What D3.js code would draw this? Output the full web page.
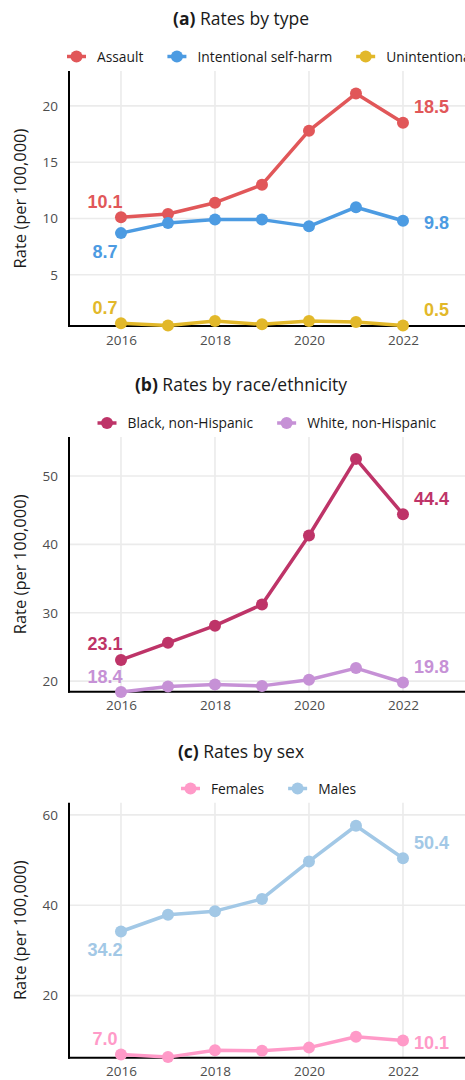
<!DOCTYPE html>
<html>
<head>
<meta charset="utf-8">
<script src="https://cdn.jsdelivr.net/npm/d3@7"></script>
<style>
  html, body { margin: 0; padding: 0; background: #fff; }
  svg { display: block; }
</style>
</head>
<body>
<svg id="chart" width="465" height="1080"></svg>
<script>
// ---------------- DATA ----------------
const years = [2016, 2017, 2018, 2019, 2020, 2021, 2022];
const xTicks = [2016, 2018, 2020, 2022];

const assault       = [10.1, 10.4, 11.4, 13.0, 17.8, 21.1, 18.5];
const selfHarm      = [8.7, 9.6, 9.9, 9.9, 9.3, 11.0, 9.8];
const unintentional = [0.7, 0.5, 0.9, 0.6, 0.9, 0.8, 0.5];

const blackNH = [23.1, 25.6, 28.1, 31.2, 41.3, 52.5, 44.4];
const whiteNH = [18.4, 19.2, 19.5, 19.3, 20.2, 21.9, 19.8];

const females = [7.0, 6.4, 7.9, 7.8, 8.5, 10.9, 10.1];
const males   = [34.2, 37.9, 38.7, 41.4, 49.7, 57.6, 50.4];

const yTicksA = [5, 10, 15, 20];
const yTicksB = [20, 30, 40, 50];
const yTicksC = [20, 40, 60];

const yDomainA = [0.45, 23.1];
const yDomainB = [18.45, 55.7];
const yDomainC = [6.27, 62.7];

// ---------------- LAYOUT / STYLE ----------------
const svg = d3.select("#chart");
const W = 465;
const LEFT = 69;
const FONT = "'Open Sans', 'Noto Sans', sans-serif";
const LABEL_FONT = "'Liberation Sans', Arial, sans-serif";
const GRID = "#EBEBEB";
const TICK_COLOR = "#4D4D4D";

const x = d3.scaleLinear().domain([2014.894, 2023.6]).range([LEFT, LEFT + (2023.6 - 2014.894) * 47]);

// label offset (center relative to point) keyed by placement name
const offsets = { above: -16, below: 18, level: 2 };

const panels = [
  {
    bold: "(a)", title: " Rates by type",
    top: 71, bottom: 326, titleY: 24.5, legendY: 56.5, legendX: 67,
    yDomain: yDomainA, yTicks: yTicksA,
    series: [
      { name: "Assault", values: assault, color: "#E15759", start: "above", end: "above" },
      { name: "Intentional self-harm", values: selfHarm, color: "#4C9BE2", start: "below", end: "level" },
      { name: "Unintentional", values: unintentional, color: "#E2B82A", start: "above", end: "above" }
    ]
  },
  {
    bold: "(b)", title: " Rates by race/ethnicity",
    top: 437, bottom: 691.7, titleY: 390.5, legendY: 423, legendX: 97.5,
    yDomain: yDomainB, yTicks: yTicksB,
    series: [
      { name: "Black, non-Hispanic", values: blackNH, color: "#BE3468", start: "above", end: "above" },
      { name: "White, non-Hispanic", values: whiteNH, color: "#C691D6", start: "above", end: "above" }
    ]
  },
  {
    bold: "(c)", title: " Rates by sex",
    top: 802.7, bottom: 1057.7, titleY: 757.5, legendY: 788.5, legendX: 181,
    yDomain: yDomainC, yTicks: yTicksC,
    series: [
      { name: "Females", values: females, color: "#FF9AC8", start: "above", end: "level" },
      { name: "Males", values: males, color: "#A2C8E6", start: "below", end: "above" }
    ]
  }
];

panels.forEach(p => {
  const g = svg.append("g");
  const y = d3.scaleLinear().domain(p.yDomain).range([p.bottom, p.top]);

  // Title
  const t = g.append("text")
    .attr("x", 241).attr("y", p.titleY)
    .attr("text-anchor", "middle")
    .attr("font-family", FONT).attr("font-size", 17.5).attr("fill", "#1a1a1a");
  t.append("tspan").attr("font-weight", "bold").text(p.bold);
  t.append("tspan").text(p.title);

  // Legend
  let lx = p.legendX;
  p.series.forEach(s => {
    const lg = g.append("g");
    lg.append("line")
      .attr("x1", lx).attr("x2", lx + 19)
      .attr("y1", p.legendY).attr("y2", p.legendY)
      .attr("stroke", s.color).attr("stroke-width", 3.5);
    lg.append("circle")
      .attr("cx", lx + 9.5).attr("cy", p.legendY).attr("r", 6)
      .attr("fill", s.color);
    const tx = lg.append("text")
      .attr("x", lx + 30).attr("y", p.legendY + 5)
      .attr("font-family", FONT).attr("font-size", 13.8).attr("fill", "#1a1a1a")
      .text(s.name);
    lx = lx + 30 + tx.node().getComputedTextLength() + 24;
  });

  // Gridlines
  const grid = g.append("g");
  grid.selectAll(".vg").data(xTicks).join("line")
    .attr("x1", d => x(d)).attr("x2", d => x(d))
    .attr("y1", p.top).attr("y2", p.bottom)
    .attr("stroke", GRID).attr("stroke-width", 1.6);
  grid.selectAll(".hg").data(p.yTicks).join("line")
    .attr("x1", LEFT).attr("x2", W)
    .attr("y1", d => y(d)).attr("y2", d => y(d))
    .attr("stroke", GRID).attr("stroke-width", 1.6);

  // Axes
  const xAxis = d3.axisBottom(x).tickValues(xTicks).tickFormat(d3.format("d")).tickSize(0).tickPadding(9);
  const xa = g.append("g").attr("transform", `translate(0,${p.bottom})`).call(xAxis);
  xa.select(".domain").remove();
  xa.selectAll("text").attr("font-family", FONT).attr("font-size", 13.5).attr("fill", TICK_COLOR);

  const yAxis = d3.axisLeft(y).tickValues(p.yTicks).tickSize(0).tickPadding(11);
  const ya = g.append("g").attr("transform", `translate(${LEFT},0)`).call(yAxis);
  ya.select(".domain").remove();
  ya.selectAll("text").attr("font-family", FONT).attr("font-size", 13.5).attr("fill", TICK_COLOR);

  // axis lines
  g.append("line").attr("x1", LEFT).attr("x2", LEFT)
    .attr("y1", p.top).attr("y2", p.bottom + 1)
    .attr("stroke", "#000").attr("stroke-width", 2);
  g.append("line").attr("x1", LEFT - 1).attr("x2", W)
    .attr("y1", p.bottom).attr("y2", p.bottom)
    .attr("stroke", "#000").attr("stroke-width", 2);

  // Y axis title
  g.append("text")
    .attr("transform", `translate(26,${(p.top + p.bottom) / 2}) rotate(-90)`)
    .attr("text-anchor", "middle")
    .attr("font-family", FONT).attr("font-size", 16.5).attr("fill", "#1a1a1a")
    .text("Rate (per 100,000)");

  // Lines & points
  const line = d3.line().x((d, i) => x(years[i])).y(d => y(d));
  p.series.forEach(s => {
    g.append("path").datum(s.values)
      .attr("d", line)
      .attr("fill", "none").attr("stroke", s.color).attr("stroke-width", 3.5)
      .attr("stroke-linejoin", "round");
    g.selectAll(null).data(s.values).join("circle")
      .attr("cx", (d, i) => x(years[i])).attr("cy", d => y(d))
      .attr("r", 6).attr("fill", s.color);

    // start / end labels
    const first = s.values[0], last = s.values[s.values.length - 1];
    g.append("text")
      .attr("x", x(years[0]) - 16)
      .attr("y", y(first) + offsets[s.start] + 6.5)
      .attr("text-anchor", "middle")
      .attr("font-family", LABEL_FONT).attr("font-weight", "bold").attr("font-size", 18)
      .attr("fill", s.color)
      .text(first.toFixed(1));
    g.append("text")
      .attr("x", x(years[years.length - 1]) + 46)
      .attr("y", y(last) + offsets[s.end] + 6.5)
      .attr("text-anchor", "end")
      .attr("font-family", LABEL_FONT).attr("font-weight", "bold").attr("font-size", 18)
      .attr("fill", s.color)
      .text(last.toFixed(1));
  });
});
</script>
</body>
</html>
